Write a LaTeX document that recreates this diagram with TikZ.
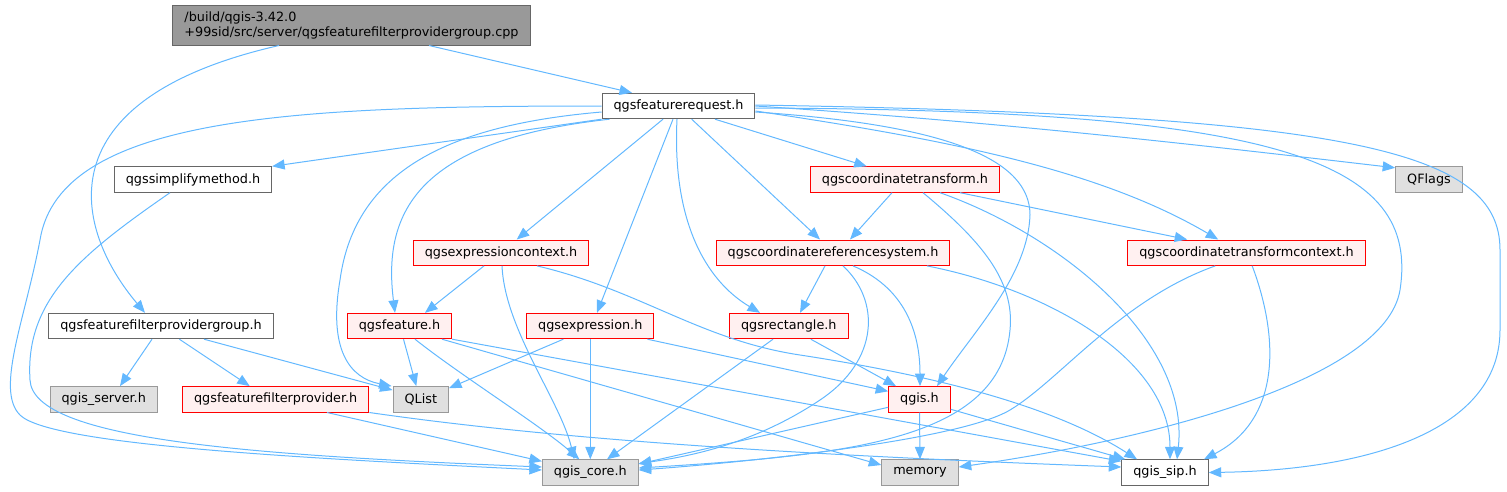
\documentclass[tikz,border=0pt]{standalone}
\usepackage{fontspec}
\setmainfont{DejaVu Sans}
\usepackage{xcolor}
\usetikzlibrary{arrows.meta}

\definecolor{depblue}{HTML}{63B8FF}
\definecolor{truncfill}{HTML}{FFF0F0}
\definecolor{truncline}{HTML}{FF0000}
\definecolor{extfill}{HTML}{E0E0E0}
\definecolor{extline}{HTML}{999999}
\definecolor{fileline}{HTML}{666666}

\begin{document}
\begin{tikzpicture}[x=1pt, y=-1pt, font=\fontsize{12.8}{15}\selectfont,
        filebox/.style={draw=fileline, fill=white, line width=1pt, minimum height=25.4pt, inner xsep=11.5pt, inner ysep=0pt},
        truncbox/.style={filebox, draw=truncline, fill=truncfill},
        extbox/.style={filebox, draw=extline, fill=extfill},
        rootbox/.style={filebox, fill=extline, align=left, minimum height=40pt},
        dep/.style={draw=depblue, line width=1pt, -{Triangle[length=12.5pt,width=10pt]}}]
        \useasboundingbox (0,0) rectangle (1507,491);
        \node[rootbox] (root) at (351.5,25) {/build/qgis-3.42.0\\+99sid/src/server/qgsfeaturefilterprovidergroup.cpp};
        \node[filebox] (req) at (678.5,106) {qgsfeaturerequest.h};
        \node[filebox] (simp) at (193,179.5) {qgssimplifymethod.h};
        \node[extbox] (qflags) at (1429,179.5) {QFlags};
        \node[truncbox] (ctr) at (905,179.5) {qgscoordinatetransform.h};
        \node[truncbox] (ectx) at (501,252.7) {qgsexpressioncontext.h};
        \node[truncbox] (crs) at (833,252.7) {qgscoordinatereferencesystem.h};
        \node[truncbox] (cttx) at (1246.5,252.7) {qgscoordinatetransformcontext.h};
        \node[filebox] (ffpg) at (161,326) {qgsfeaturefilterprovidergroup.h};
        \node[truncbox] (feat) at (399.5,326) {qgsfeature.h};
        \node[truncbox] (expr) at (590.3,326) {qgsexpression.h};
        \node[truncbox] (rect) at (788.8,326) {qgsrectangle.h};
        \node[extbox] (server) at (103.7,399.3) {qgis\_server.h};
        \node[truncbox] (ffp) at (275.7,399.3) {qgsfeaturefilterprovider.h};
        \node[extbox] (qlist) at (420.8,399.3) {QList};
        \node[truncbox] (qgis) at (919.5,399.3) {qgis.h};
        \node[extbox] (core) at (590.3,472.5) {qgis\_core.h};
        \node[extbox] (memory) at (920,472.5) {memory};
        \node[filebox] (sip) at (1165,472.5) {qgis\_sip.h};
        \draw[dep] ([xshift=77.5]root.south) -- ([xshift=-46.5]req.north);
        \draw[dep] ([xshift=-72.5]root.south) .. controls (40,100) and (75,230) .. ([xshift=-16]ffpg.north);
        \draw[dep] (req.west) .. controls (300,106) and (60,115) .. (40,240) .. controls (25,320) and (-5,390) .. (20,415) .. controls (50,445) and (300,458) .. ([yshift=2.5]core.west);
        \draw[dep] (req.south west) -- (simp.north east);
        \draw[dep] ([yshift=-6]req.west) .. controls (450,125) and (355,170) .. (340,280) .. controls (328,350) and (350,378) .. ([xshift=-1]qlist.north west);
        \draw[dep] ([xshift=8]req.south west) .. controls (420,140) and (382,210) .. ([xshift=-4.5]feat.north);
        \draw[dep] ([xshift=-15.5]req.south) -- ([xshift=15.7]ectx.north);
        \draw[dep] ([xshift=-5.5]req.south) -- ([xshift=6.7]expr.north);
        \draw[dep] ([xshift=-1.5]req.south) .. controls (672,220) and (705,280) .. ([xshift=-28.8]rect.north);
        \draw[dep] ([xshift=13.2]req.south) -- ([xshift=-13]crs.north);
        \draw[dep] ([xshift=36.5]req.south) -- ([xshift=-38.3]ctr.north);
        \draw[dep] ([yshift=-6]req.east) .. controls (950,125) and (1030,160) .. (1030,215) .. controls (1028,275) and (975,330) .. ([xshift=17.5]qgis.north);
        \draw[dep] ([yshift=-2]req.east) .. controls (1280,110) and (1420,160) .. (1400,290) .. controls (1385,380) and (1150,440) .. ([yshift=5.5]memory.east);
        \draw[dep] ([yshift=-5]req.east) .. controls (950,140) and (1100,170) .. ([xshift=-28.3]cttx.north);
        \draw[dep] (req.east) .. controls (1000,122) and (1200,145) .. ([yshift=-1.5]qflags.north west);
        \draw[dep] ([yshift=1]req.east) .. controls (1350,115) and (1500,150) .. (1500,250) -- (1500,330) .. controls (1500,430) and (1370,470) .. (sip.east);
        \draw[dep] ([xshift=-23]simp.south) .. controls (80,255) and (25,300) .. (30,380) .. controls (33,440) and (250,455) .. ([yshift=5.5]core.west);
        \draw[dep] ([xshift=-13]ctr.south) -- ([xshift=17]crs.north);
        \draw[dep] ([xshift=55]ctr.south) -- ([xshift=-59.3]cttx.north);
        \draw[dep] ([xshift=18]ctr.south) .. controls (980,240) and (1015,280) .. (1010,330) .. controls (1000,440) and (850,455) .. ([yshift=4.5]core.east);
        \draw[dep] ([xshift=35]ctr.south) .. controls (1060,235) and (1190,340) .. ([xshift=12]sip.north);
        \draw[dep] ([xshift=-17]ectx.south) -- ([xshift=25.5]feat.north);
        \draw[dep] ([xshift=1]ectx.south) .. controls (505,330) and (560,400) .. ([xshift=-16]core.north);
        \draw[dep] ([xshift=36]ectx.south) .. controls (640,290) and (700,340) .. (800,355) .. controls (950,378) and (1060,410) .. ([xshift=-28]sip.north);
        \draw[dep] ([xshift=-8]crs.south) -- ([xshift=11.2]rect.north);
        \draw[dep] ([xshift=20]crs.south) .. controls (910,290) and (920,340) .. ([xshift=0.5]qgis.north);
        \draw[dep] ([xshift=10]crs.south) .. controls (880,300) and (880,360) .. (820,400) .. controls (760,440) and (700,455) .. ([yshift=9]core.east);
        \draw[dep] ([xshift=94]crs.south) .. controls (1050,290) and (1170,360) .. ([xshift=5]sip.north);
        \draw[dep] ([xshift=-31.3]cttx.south) .. controls (1120,300) and (1060,380) .. (1010,410) .. controls (960,440) and (750,462) .. ([yshift=2.5]core.east);
        \draw[dep] ([xshift=5.7]cttx.south) .. controls (1280,340) and (1280,420) .. ([xshift=39]sip.north);
        \draw[dep] ([xshift=-9]ffpg.south) -- ([xshift=16.3]server.north);
        \draw[dep] ([xshift=18.4]ffpg.south) -- ([xshift=-26]ffp.north);
        \draw[dep] ([xshift=43]ffpg.south) -- ([yshift=-4]qlist.north west);
        \draw[dep] ([xshift=4]feat.south) -- ([xshift=-4.5]qlist.north);
        \draw[dep] ([xshift=15.5]feat.south) .. controls (460,375) and (540,425) .. ([xshift=-11]core.north);
        \draw[dep] (feat.south east) -- ([yshift=-2]sip.north west);
        \draw[dep] ([xshift=42.5]feat.south) -- ([yshift=7.5]memory.west);
        \draw[dep] ([xshift=-27]expr.south) -- ([yshift=-2]qlist.north east);
        \draw[dep] (expr.south) -- (core.north);
        \draw[dep] ([xshift=-7]expr.south east) -- ([yshift=8]qgis.west);
        \draw[dep] ([xshift=-15.8]rect.south) -- ([xshift=16.7]core.north);
        \draw[dep] ([xshift=22]rect.south) -- ([xshift=-23.5]qgis.north);
        \draw[dep] ([xshift=51.3]ffp.south) -- ([yshift=-2]core.north west);
        \draw[dep] (ffp.south east) .. controls (560,440) and (800,455) .. ([yshift=5.5]sip.west);
        \draw[dep] ([yshift=-8]qgis.west) -- ([yshift=8.5]core.east);
        \draw[dep] (qgis.south) -- (memory.north);
        \draw[dep] ([yshift=-10]qgis.east) -- ([xshift=4]sip.north west);
\end{tikzpicture}
\end{document}
